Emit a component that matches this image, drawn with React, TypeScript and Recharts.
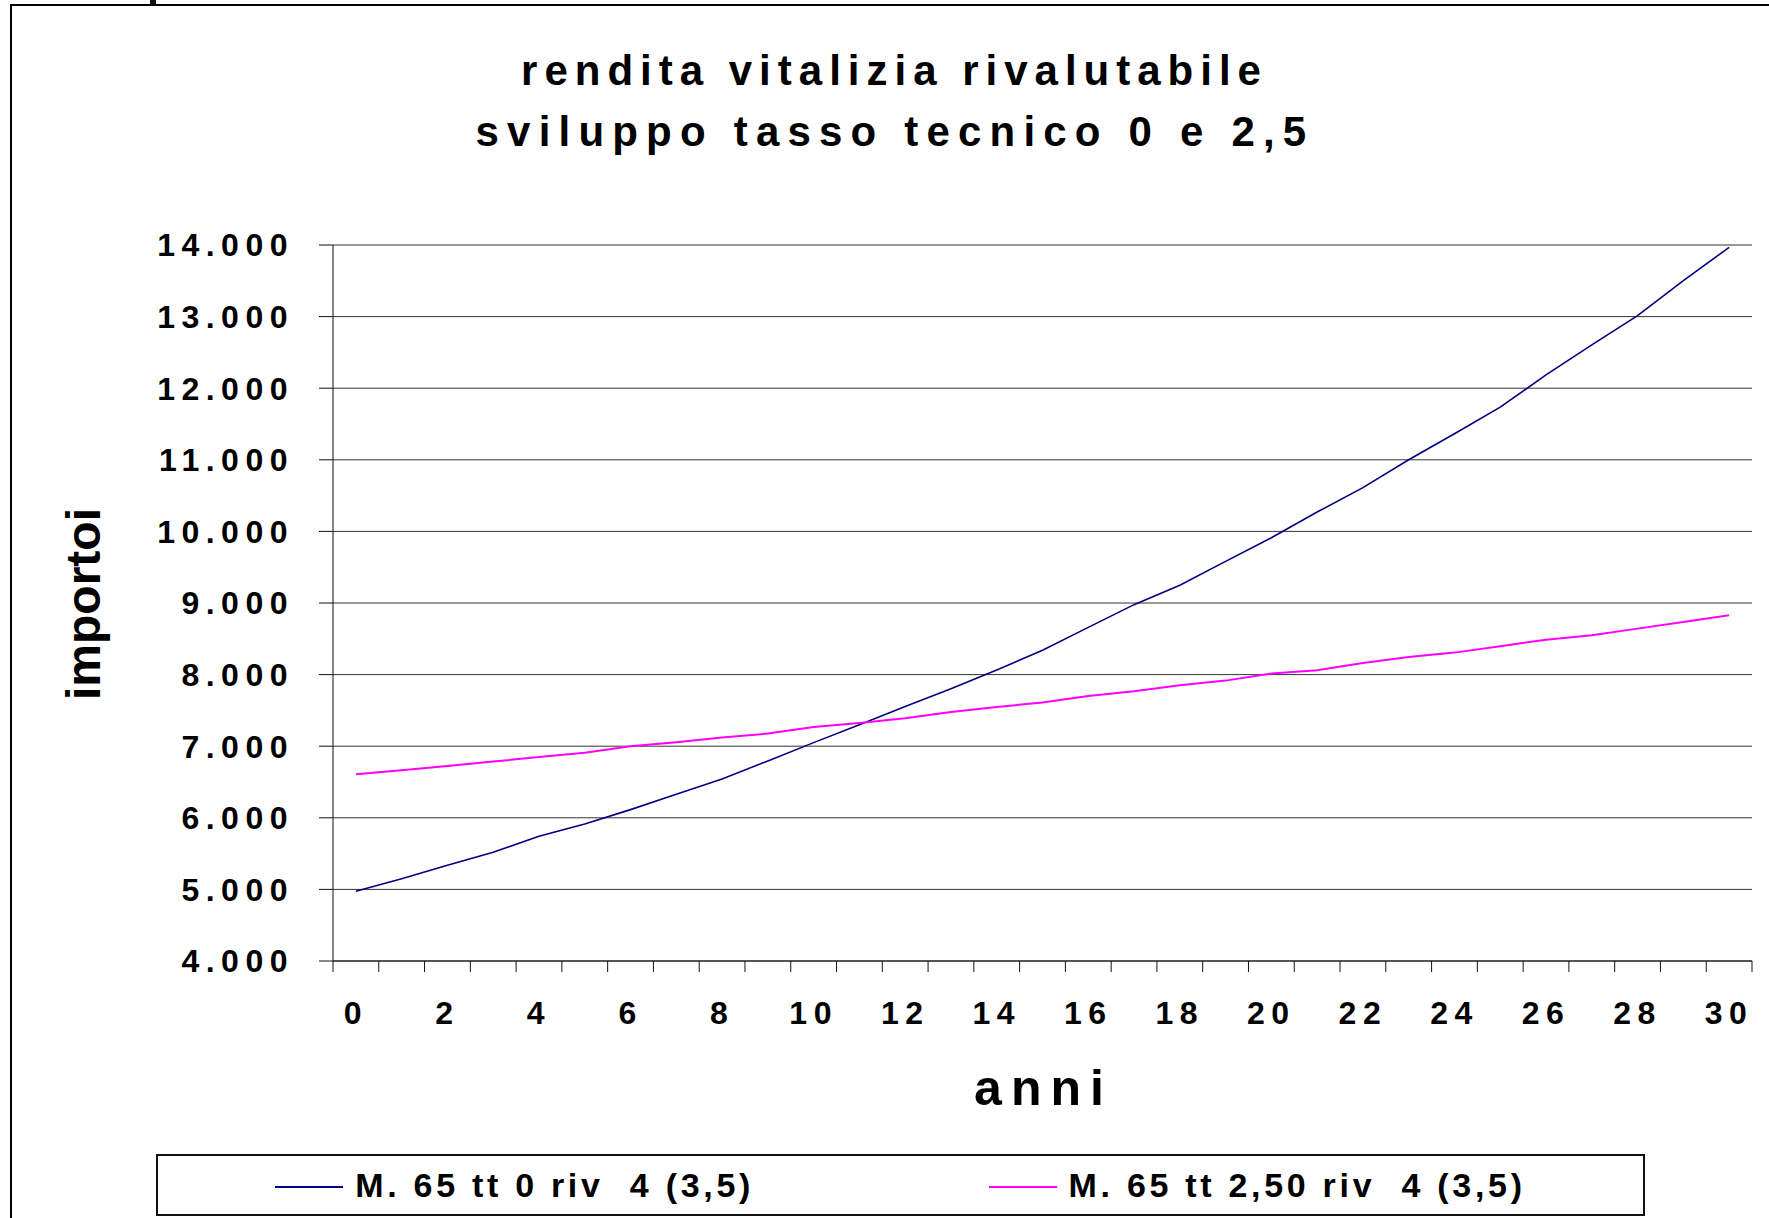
import React from 'react';
import { LineChart, Line, XAxis, YAxis, CartesianGrid, Legend } from 'recharts';

// anni 0..30
const anni = [0, 1, 2, 3, 4, 5, 6, 7, 8, 9, 10, 11, 12, 13, 14, 15, 16, 17, 18, 19, 20, 21, 22, 23, 24, 25, 26, 27, 28, 29, 30];

// importi
const m65tt0 = [4975, 5150, 5336, 5518, 5741, 5914, 6114, 6328, 6542, 6794, 7050, 7301, 7553, 7804, 8065, 8340, 8660, 8977, 9247, 9581, 9912, 10270, 10611, 11000, 11363, 11735, 12186, 12605, 13014, 13502, 13967];
const m65tt25 = [6608, 6663, 6724, 6785, 6850, 6910, 6999, 7055, 7120, 7176, 7269, 7325, 7390, 7478, 7548, 7610, 7702, 7767, 7851, 7916, 8014, 8060, 8163, 8247, 8307, 8395, 8488, 8549, 8642, 8735, 8828];

const yTicks = [4000, 5000, 6000, 7000, 8000, 9000, 10000, 11000, 12000, 13000, 14000];
const xLabelTicks = [0, 2, 4, 6, 8, 10, 12, 14, 16, 18, 20, 22, 24, 26, 28, 30];
// tick marks sit between the categories, like Excel
const xMarkTicks = [...anni.map((a) => a - 0.5), anni[anni.length - 1] + 0.5];
const xDomain = [xMarkTicks[0], xMarkTicks[xMarkTicks.length - 1]];

const data = anni.map((a, i) => ({ anno: a, tt0: m65tt0[i], tt25: m65tt25[i] }));

const FONT = '"Liberation Sans", Arial, sans-serif';

const fmt = (v: number) => String(v).replace(/\B(?=(\d{3})+(?!\d))/g, '.');

const tickStyle = { fontSize: 32, fontWeight: 700, fill: '#000', fontFamily: FONT, letterSpacing: 6.5 };

const LegendBox = (props: any) => {
  const items = props.payload || [];
  return (
    <div
      style={{
        width: 1489,
        height: 62,
        boxSizing: 'border-box',
        border: '2px solid #111',
        background: '#fff',
        display: 'flex',
        justifyContent: 'space-around',
        alignItems: 'center',
        fontFamily: FONT,
      }}
    >
      {items.map((it: any) => (
        <div key={it.value} style={{ display: 'flex', alignItems: 'center' }}>
          <span style={{ display: 'inline-block', width: 68, height: 2, background: it.color, marginRight: 12, marginTop: 4 }} />
          <span style={{ fontSize: 34, fontWeight: 700, letterSpacing: 3.7, whiteSpace: 'pre', color: '#000' }}>{it.value}</span>
        </div>
      ))}
    </div>
  );
};

const NoLabel = () => <g />;

export default function App() {
  return (
    <div style={{ position: 'absolute', left: 0, top: 0, width: 1769, height: 1218, background: '#fff', overflow: 'hidden', fontFamily: FONT }}>
      {/* chart area frame (cropped on the right and bottom) */}
      <div style={{ position: 'absolute', left: 10, top: 4, width: 1800, height: 1300, borderLeft: '2px solid #000', borderTop: '2px solid #000' }} />
      <div style={{ position: 'absolute', left: 150, top: 0, width: 6, height: 5, background: '#111' }} />

      <div style={{ position: 'absolute', left: 11, top: 43, width: 1760, textAlign: 'center', fontSize: 42, fontWeight: 700, lineHeight: '55px', color: '#000' }}>
        <div style={{ letterSpacing: 7, paddingLeft: 7 }}>rendita vitalizia rivalutabile</div>
        <div style={{ letterSpacing: 8.2, paddingLeft: 8, marginTop: 6 }}>sviluppo tasso tecnico 0 e 2,5</div>
      </div>

      <div style={{ position: 'absolute', left: 0, top: 0 }}>
        <LineChart width={1769} height={1218} data={data} margin={{ top: 245, right: 17, left: 0, bottom: 2 }}>
          <CartesianGrid vertical={false} stroke="#333" strokeWidth={1} />
          <XAxis
            type="number"
            dataKey="anno"
            domain={xDomain}
            ticks={xMarkTicks}
            interval={0}
            tick={<NoLabel />}
            tickSize={11}
            height={12}
            axisLine={{ stroke: '#111' }}
            tickLine={{ stroke: '#111' }}
            allowDataOverflow
          />
          <XAxis
            xAxisId="lab"
            type="number"
            dataKey="anno"
            domain={xDomain}
            ticks={xLabelTicks}
            interval={0}
            axisLine={false}
            tickLine={false}
            tickSize={0}
            tickMargin={28}
            height={181}
            tick={tickStyle}
            allowDataOverflow
            label={{
              content: (p: any) => {
                const vb = p.viewBox || {};
                return (
                  <text x={vb.x + vb.width / 2 + 1} y={vb.y + 132} textAnchor="middle" fontSize={50} fontWeight={700} fontFamily={FONT} letterSpacing={9} fill="#000">
                    anni
                  </text>
                );
              },
            }}
          />
          <YAxis
            domain={[4000, 14000]}
            ticks={yTicks}
            interval={0}
            tickFormatter={fmt}
            width={333}
            tickSize={14}
            tickMargin={25}
            tick={tickStyle}
            axisLine={{ stroke: '#111' }}
            tickLine={{ stroke: '#111' }}
            label={{
              content: (p: any) => {
                const vb = p.viewBox || {};
                const cx = vb.x + 100;
                const cy = vb.y + vb.height / 2 + 1;
                return (
                  <text x={cx} y={cy} transform={`rotate(-90 ${cx} ${cy})`} textAnchor="middle" fontSize={48} fontWeight={700} fontFamily={FONT} fill="#000">
                    importoi
                  </text>
                );
              },
            }}
          />
          <YAxis yAxisId="r" orientation="right" domain={[4000, 14000]} width={0} tick={false} tickLine={false} axisLine={{ stroke: '#888' }} />
          <Legend
            verticalAlign="bottom"
            content={<LegendBox />}
            wrapperStyle={{ left: 156, bottom: 2, width: 1489 }}
          />
          <Line type="linear" dataKey="tt0" name="M. 65 tt 0 riv  4 (3,5)" stroke="#000080" strokeWidth={1.6} dot={false} isAnimationActive={false} />
          <Line type="linear" dataKey="tt25" name="M. 65 tt 2,50 riv  4 (3,5)" stroke="#ff00ff" strokeWidth={2} dot={false} isAnimationActive={false} />
        </LineChart>
      </div>
    </div>
  );
}
